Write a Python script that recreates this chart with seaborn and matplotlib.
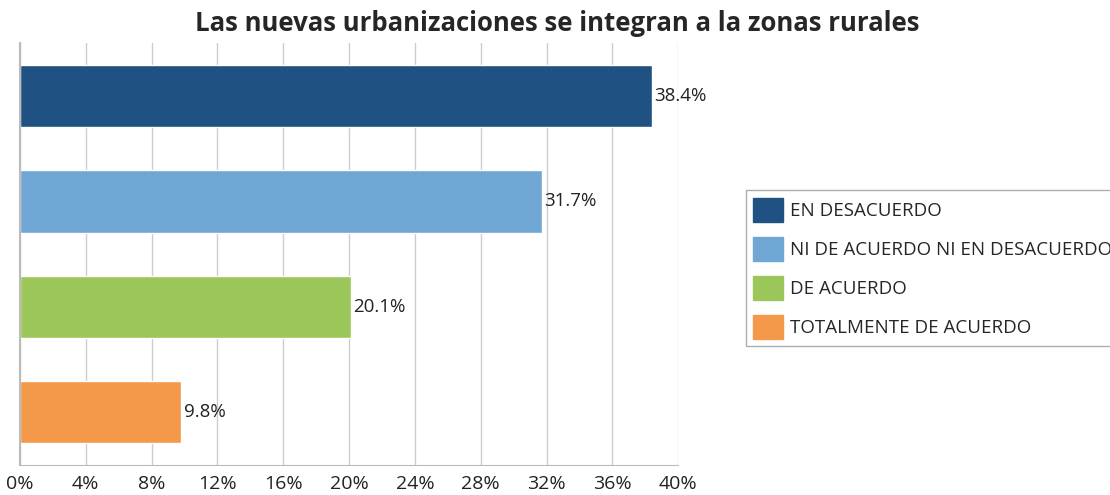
import pandas as pd
import seaborn as sns
import matplotlib.pyplot as plt
from matplotlib.ticker import MultipleLocator, FuncFormatter

categorias = ["EN DESACUERDO", "NI DE ACUERDO NI EN DESACUERDO",
              "DE ACUERDO", "TOTALMENTE DE ACUERDO"]
porcentajes = [38.4, 31.7, 20.1, 9.8]
colores = ["#1F5282", "#6FA6D4", "#9BC75A", "#F4984A"]

data = pd.DataFrame({"categoria": categorias, "valor": porcentajes})

sns.set_style("white")
plt.rcParams["font.family"] = ["Open Sans", "DejaVu Sans"]

fig = plt.figure(figsize=(11.1, 4.95), dpi=100)
ax = fig.add_axes([0.018, 0.0606, 0.593, 0.852])

sns.barplot(data=data, x="valor", y="categoria", hue="categoria",
            palette=colores, dodge=False, width=0.59, legend=False,
            saturation=1, ax=ax)

for barra, v in zip(ax.patches, porcentajes):
    ax.text(barra.get_width() + 0.15, barra.get_y() + barra.get_height() / 2,
            f"{v}%", va="center", ha="left", fontsize=13.5, color="#222222")

ax.set_xlim(0, 40)
ax.set_ylim(3.5, -0.5)
ax.xaxis.set_major_locator(MultipleLocator(4))
ax.xaxis.set_major_formatter(FuncFormatter(lambda x, p: f"{x:.0f}%"))
ax.grid(axis="x", color="#CCCCCC", linewidth=1)
ax.set_axisbelow(True)
ax.set_yticks([])
ax.set_xlabel("")
ax.set_ylabel("")
for s in ["top", "right"]:
    ax.spines[s].set_visible(False)
ax.spines["left"].set_color("#BBBBBB")
ax.spines["left"].set_linewidth(1.5)
ax.spines["bottom"].set_color("#BBBBBB")
ax.tick_params(axis="x", length=5, color="#BBBBBB", labelsize=14, pad=2,
               labelcolor="#222222")

handles = [plt.Rectangle((0, 0), 1, 1, color=c) for c in colores]
fig.legend(handles, categorias, loc="upper left", bbox_to_anchor=(0.672, 0.616),
           fontsize=13.5, frameon=True, fancybox=False, edgecolor="#999999",
           handlelength=1.6, handleheight=1.6, handletextpad=0.35,
           labelspacing=0.8, borderpad=0.4, borderaxespad=0)

fig.suptitle("Las nuevas urbanizaciones se integran a la zonas rurales",
             fontsize=18.5, fontweight="bold", x=0.502, y=0.98)

plt.savefig("out.png", dpi=100)
